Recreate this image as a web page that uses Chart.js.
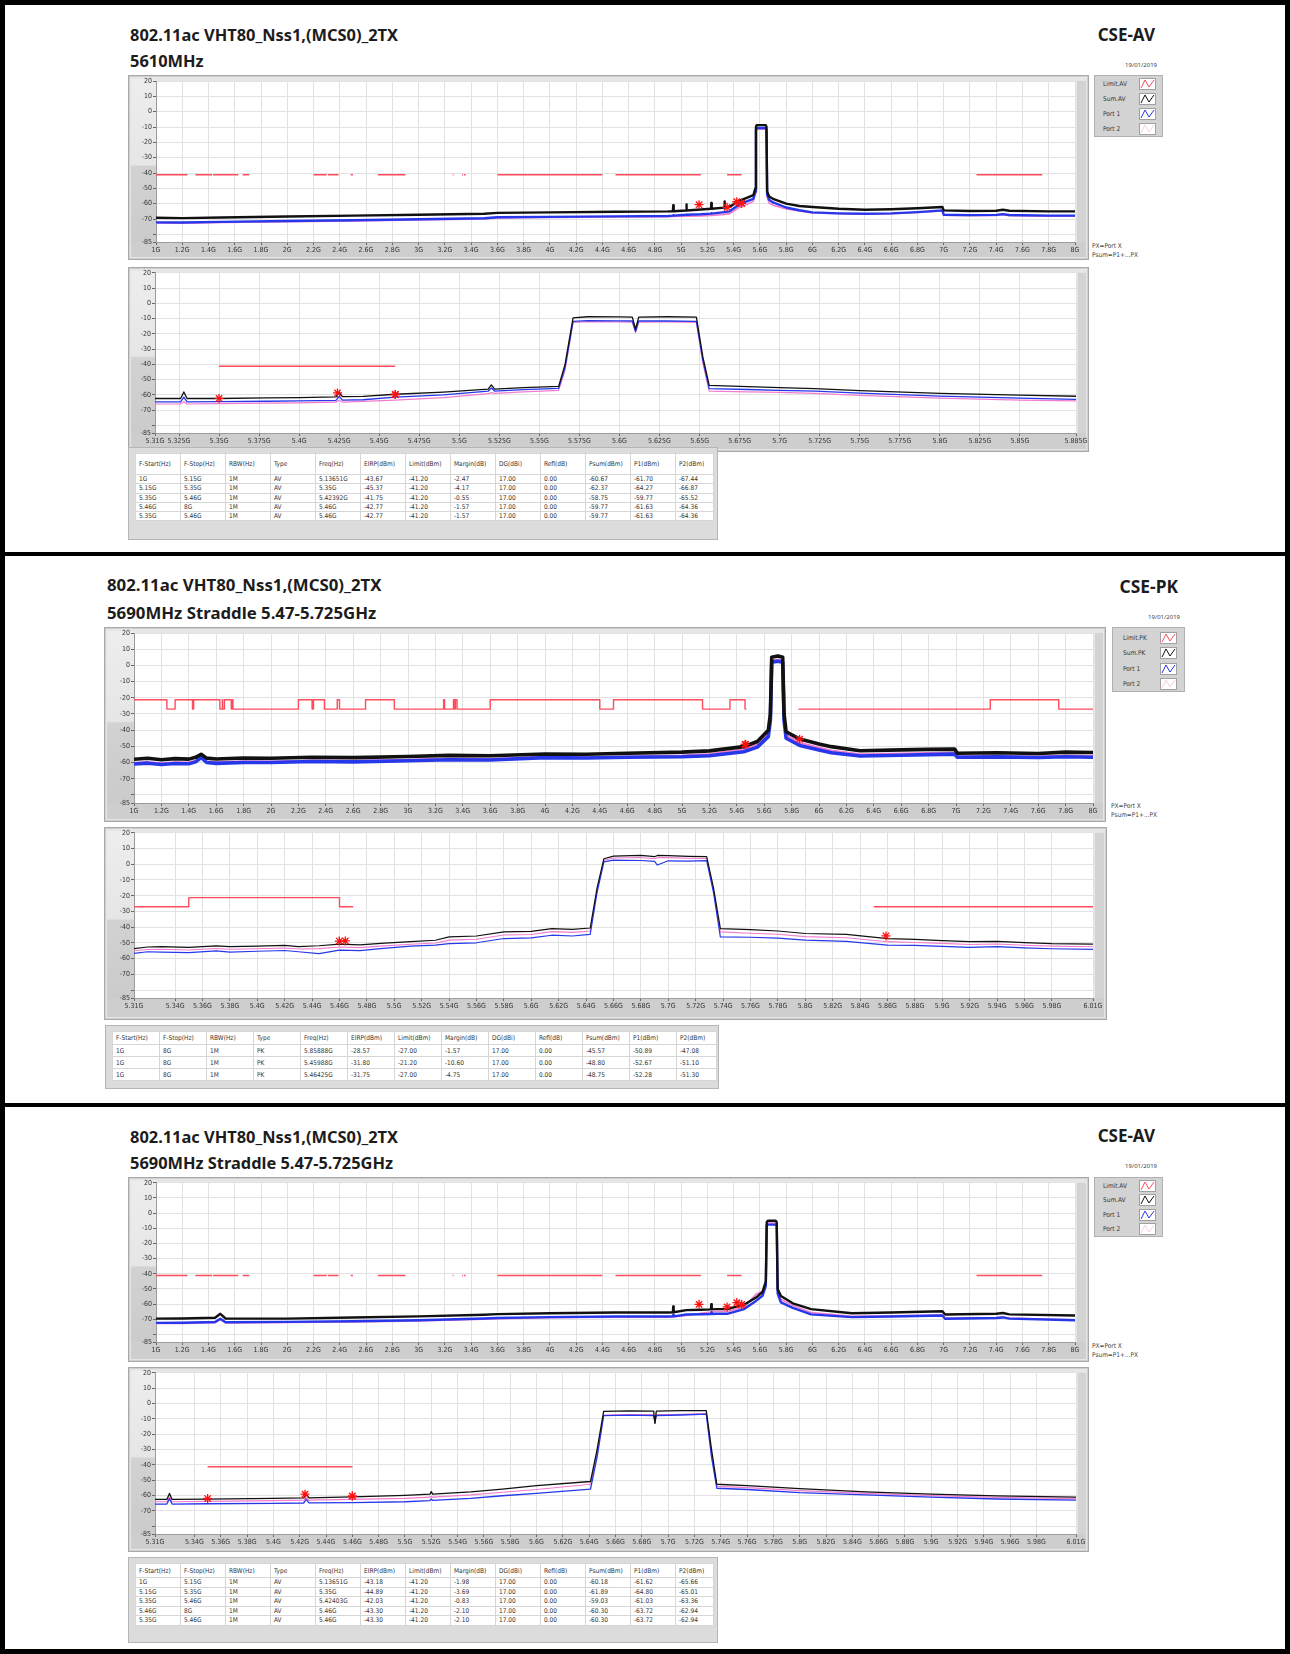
<!DOCTYPE html>
<html>
<head>
<meta charset="utf-8">
<title>CSE 802.11ac VHT80</title>
<script src="https://cdn.jsdelivr.net/npm/chart.js@4.4.0/dist/chart.umd.min.js"></script>
<style>
body { margin: 0; background: #fff; }
#page { position: relative; width: 1290px; height: 1654px; overflow: hidden; font-family: "Noto Sans", "DejaVu Sans", sans-serif; }
.border { position: absolute; left: 0; top: 0; width: 1290px; height: 1654px; box-sizing: border-box; border: 5px solid #000; }
.sep { position: absolute; left: 0; width: 1290px; height: 4px; background: #000; }
.ttl { position: absolute; font-weight: bold; font-size: 16.4px; line-height: 20px; color: #1c1c1c; white-space: nowrap; }
.date { position: absolute; font-size: 6px; line-height: 8px; color: #444; white-space: nowrap; }
.px { position: absolute; font-size: 6.5px; line-height: 9px; color: #444; white-space: nowrap;
      font-family: "Liberation Sans Narrow", "DejaVu Sans Condensed", sans-serif; }
canvas.graph { position: absolute; }
.legend { position: absolute; background: #d3d3d3; border: 1px solid #b0b0b0; box-sizing: border-box; }
.legend div { position: absolute; font-size: 6.5px; line-height: 12px; color: #333; white-space: nowrap;
      font-family: "Liberation Sans Narrow", "DejaVu Sans Condensed", sans-serif; }
.legend svg { position: absolute; }
.tframe { position: absolute; background: #dcdcdc; border: 1px solid #b5b5b5; box-sizing: border-box; }
.tframe table { position: absolute; left: 6px; top: 5px; border-collapse: collapse; background: #fff; table-layout: fixed;
      font-family: "Liberation Sans Narrow", "DejaVu Sans Condensed", sans-serif; font-size: 6.5px; color: #333; }
.tframe td { border: 1px solid #d6d6d6; padding: 0 0 0 3px; white-space: nowrap; overflow: hidden; line-height: 8px; }
</style>
</head>
<body>
<div id="page">
  <div class="border"></div>
  <div class="sep" style="top:552px"></div>
  <div class="sep" style="top:1103px"></div>

  <div class="ttl" style="left:130px; top:25px">802.11ac VHT80_Nss1,(MCS0)_2TX</div>
  <div class="ttl" style="left:130px; top:51px">5610MHz</div>
  <div class="ttl" style="right:135px; top:25px; font-size:17px">CSE-AV</div>
  <div class="date" style="right:133px; top:61px">19/01/2019</div>
  <div class="legend" id="leg1"></div>
  <div class="px" style="left:1092px; top:242px">PX=Port X<br>Psum=P1+...PX</div>
  <canvas class="graph" id="g1a"></canvas>
  <canvas class="graph" id="g1b"></canvas>
  <div class="tframe" id="tab1"></div>

  <div class="ttl" style="left:107px; top:575px; font-size:16.8px">802.11ac VHT80_Nss1,(MCS0)_2TX</div>
  <div class="ttl" style="left:107px; top:603px; font-size:16.8px">5690MHz Straddle 5.47-5.725GHz</div>
  <div class="ttl" style="right:112px; top:576px; font-size:17.4px">CSE-PK</div>
  <div class="date" style="right:110px; top:613px">19/01/2019</div>
  <div class="legend" id="leg2"></div>
  <div class="px" style="left:1111px; top:802px">PX=Port X<br>Psum=P1+...PX</div>
  <canvas class="graph" id="g2a"></canvas>
  <canvas class="graph" id="g2b"></canvas>
  <div class="tframe" id="tab2"></div>

  <div class="ttl" style="left:130px; top:1127px">802.11ac VHT80_Nss1,(MCS0)_2TX</div>
  <div class="ttl" style="left:130px; top:1153px">5690MHz Straddle 5.47-5.725GHz</div>
  <div class="ttl" style="right:135px; top:1126px; font-size:17px">CSE-AV</div>
  <div class="date" style="right:133px; top:1162px">19/01/2019</div>
  <div class="legend" id="leg3"></div>
  <div class="px" style="left:1092px; top:1342px">PX=Port X<br>Psum=P1+...PX</div>
  <canvas class="graph" id="g3a"></canvas>
  <canvas class="graph" id="g3b"></canvas>
  <div class="tframe" id="tab3"></div>
</div>

<script>
// ---- axes
var yTicks = [20, 10, 0, -10, -20, -30, -40, -50, -60, -70, -80, -85];
var wideTicks = [1, 1.2, 1.4, 1.6, 1.8, 2, 2.2, 2.4, 2.6, 2.8, 3, 3.2, 3.4, 3.6, 3.8, 4, 4.2, 4.4, 4.6, 4.8,
                 5, 5.2, 5.4, 5.6, 5.8, 6, 6.2, 6.4, 6.6, 6.8, 7, 7.2, 7.4, 7.6, 7.8, 8];
var zoomTicksA = [5.31, 5.325, 5.35, 5.375, 5.4, 5.425, 5.45, 5.475, 5.5, 5.525, 5.55, 5.575, 5.6, 5.625,
                  5.65, 5.675, 5.7, 5.725, 5.75, 5.775, 5.8, 5.825, 5.85, 5.885];
var zoomTicksB = [5.31, 5.34, 5.36, 5.38, 5.4, 5.42, 5.44, 5.46, 5.48, 5.5, 5.52, 5.54, 5.56, 5.58, 5.6, 5.62,
                  5.64, 5.66, 5.68, 5.7, 5.72, 5.74, 5.76, 5.78, 5.8, 5.82, 5.84, 5.86, 5.88, 5.9, 5.92, 5.94,
                  5.96, 5.98, 6.01];

// ---- limits (restricted bands, GHz)
var bandStart = [0.96, 1.3, 1.435, 1.645, 1.66, 1.7188, 2.2, 2.31, 2.4835, 2.69, 3.26, 3.332, 3.3458, 3.6, 4.5, 5.35, 7.25];
var bandStop  = [1.24, 1.427, 1.6265, 1.6465, 1.71, 1.7222, 2.3, 2.39, 2.5, 2.9, 3.267, 3.339, 3.358, 4.4, 5.15, 5.46, 7.75];
var avLimit = -41.2;
var pkLimitFreq  = [1, 1.24, 1.3, 1.427, 1.435, 1.6265, 1.645, 1.6465, 1.66, 1.71, 1.7188, 1.7222, 2.2, 2.3, 2.31, 2.39,
                    2.4835, 2.5, 2.69, 2.9, 3.26, 3.267, 3.332, 3.339, 3.3458, 3.358, 3.6, 4.4, 4.5, 5.15, 5.35, 5.46,
                    5.47, 5.6, 5.85, 7.25, 7.75, 8];
var pkLimitLevel = [-21.2, -27, -21.2, -27, -21.2, -27, -21.2, -27, -21.2, -27, -21.2, -27, -21.2, -27, -21.2, -27,
                    -21.2, -27, -21.2, -27, -21.2, -27, -21.2, -27, -21.2, -27, -21.2, -27, -21.2, -27, -21.2, -27,
                    -27, null, -27, -21.2, -27, -27];

// ---- panel 1: 5610MHz AV, 1-8 GHz
var p1wFreq  = [1, 1.2, 1.5, 2, 2.5, 3, 3.5, 3.6, 4, 4.5, 4.9, 4.937, 4.94, 4.943, 5.037, 5.04, 5.043, 5.15, 5.227, 5.23,
                5.233, 5.327, 5.33, 5.333, 5.37, 5.45, 5.5, 5.55, 5.565, 5.57, 5.575, 5.645, 5.65, 5.655, 5.67, 5.7, 5.8,
                5.9, 6.0, 6.2, 6.4, 6.6, 6.8, 6.99, 7.0, 7.2, 7.4, 7.45, 7.5, 7.8, 8];
var p1wSum   = [-69.2, -69.4, -69.0, -68.4, -67.8, -67.2, -66.6, -66.0, -65.7, -65.3, -65.0, -64.9, -61.0, -64.9, -64.5,
                -60.5, -64.5, -63.8, -63.3, -59.5, -63.3, -62.6, -58.5, -62.6, -62.0, -57.8, -56.2, -54.5, -50.0, -10.0,
                -8.8, -8.8, -10.0, -52.0, -55.3, -56.8, -60.0, -61.5, -62.2, -63.3, -64.0, -63.6, -63.0, -62.2, -64.4,
                -64.8, -64.6, -64.0, -64.6, -65.0, -65.0];
var p1wPort1 = [-72.2, -72.3, -71.9, -71.3, -70.8, -70.2, -69.5, -68.9, -68.6, -68.3, -68.0, -67.8, -67.5, -67.8, -67.2,
                -67.0, -67.2, -66.9, -66.5, -66.3, -66.5, -65.5, -65.2, -65.5, -65.0, -60.0, -58.5, -56.8, -52.0, -12.0,
                -10.7, -10.7, -12.0, -54.0, -57.5, -59.2, -62.5, -64.3, -65.7, -66.3, -66.6, -66.3, -65.5, -64.4, -67.2,
                -67.5, -67.3, -66.8, -67.4, -67.8, -67.8];
var p1wPort2 = [-72.6, -72.7, -72.3, -71.7, -71.2, -70.6, -69.9, -69.3, -69.0, -68.7, -68.5, -68.4, -68.3, -68.4, -68.1,
                -68.0, -68.1, -68.0, -67.7, -67.6, -67.7, -67.0, -66.8, -67.0, -66.5, -62.0, -60.5, -58.5, -53.5, -13.0,
                -11.5, -11.5, -13.0, -55.5, -59.5, -61.0, -63.5, -64.8, -66.0, -66.6, -66.9, -66.6, -65.8, -64.8, -67.6,
                -67.9, -67.7, -67.2, -67.8, -68.2, -68.2];

// ---- panel 1: 5.31-5.885 GHz
var p1zFreq  = [5.31, 5.326, 5.328, 5.330, 5.35, 5.38, 5.4, 5.423, 5.425, 5.427, 5.44, 5.46, 5.49, 5.518, 5.52, 5.522,
                5.54, 5.562, 5.566, 5.571, 5.58, 5.6, 5.608, 5.61, 5.612, 5.63, 5.648, 5.652, 5.656, 5.68, 5.7, 5.722,
                5.75, 5.8, 5.85, 5.885];
var p1zSum   = [-62.4, -62.4, -58.1, -62.4, -62.4, -62.0, -61.8, -61.3, -58.3, -61.2, -61.0, -59.6, -58.2, -56.3, -53.5,
                -56.2, -55.3, -54.4, -40.0, -9.6, -8.8, -8.9, -9.0, -17.0, -9.0, -8.8, -9.0, -35.0, -53.8, -54.6, -55.2,
                -55.9, -57.2, -59.0, -60.2, -60.9];
var p1zPort1 = [-64.6, -64.6, -61.5, -64.6, -64.5, -64.2, -64.0, -63.6, -61.0, -63.5, -63.2, -61.5, -60.0, -57.6, -55.5,
                -57.5, -56.6, -55.7, -42.0, -11.8, -11.4, -11.5, -11.6, -18.5, -11.6, -11.6, -11.8, -37.0, -55.9, -56.5,
                -57.0, -57.5, -58.8, -60.8, -62.2, -63.0];
var p1zPort2 = [-66.0, -66.0, -64.5, -66.0, -65.8, -65.4, -65.2, -64.8, -63.5, -64.7, -64.3, -63.4, -61.8, -59.2, -58.5,
                -59.0, -58.0, -57.0, -44.0, -12.5, -12.0, -12.2, -12.3, -19.0, -12.3, -12.2, -12.5, -39.0, -57.5, -58.0,
                -58.4, -59.0, -60.3, -62.2, -63.4, -64.0];

// ---- panel 2: 5690MHz PK, 1-8 GHz
var p2wFreq  = [1, 1.1, 1.2, 1.3, 1.4, 1.45, 1.49, 1.53, 1.6, 1.8, 2, 2.3, 2.6, 3, 3.3, 3.6, 4, 4.3, 4.6, 5, 5.2, 5.45,
                5.55, 5.63, 5.645, 5.655, 5.7, 5.735, 5.745, 5.76, 5.86, 6.0, 6.09, 6.3, 6.6, 6.8, 6.99, 7.01, 7.3, 7.6, 7.8, 8];
var p2wSum   = [-58.0, -57.4, -58.3, -57.6, -57.9, -56.8, -54.9, -57.3, -57.8, -57.2, -57.4, -56.7, -57.0, -56.3, -55.6,
                -55.8, -54.7, -54.9, -54.3, -53.6, -52.8, -50.2, -47.0, -40.0, -30.0, 5.0, 5.8, 5.0, -30.0, -41.0, -45.5,
                -48.5, -50.2, -52.7, -52.2, -51.9, -51.7, -54.3, -54.0, -54.4, -53.6, -53.8];
var p2wPort1 = [-60.9, -60.4, -61.2, -60.6, -60.8, -59.6, -56.9, -60.0, -60.5, -60.0, -60.0, -59.4, -59.6, -58.9, -58.3,
                -58.4, -57.0, -57.2, -56.7, -56.4, -55.8, -53.3, -50.5, -44.0, -34.0, 2.0, 2.6, 2.0, -34.0, -45.0, -49.5,
                -52.2, -54.0, -56.0, -55.5, -55.1, -54.8, -56.7, -56.5, -56.9, -56.4, -56.7];
var p2wPort2 = [-60.2, -59.8, -60.5, -59.9, -60.1, -59.0, -56.5, -59.4, -59.8, -59.3, -59.4, -58.8, -59.0, -58.3, -57.6,
                -57.8, -56.6, -56.8, -56.3, -55.7, -54.8, -51.8, -48.6, -42.0, -32.0, 3.0, 3.6, 3.0, -32.0, -43.0, -47.8,
                -50.8, -52.6, -55.0, -54.5, -54.2, -53.9, -56.2, -56.0, -56.4, -55.8, -56.1];

// ---- panel 2: 5.31-6.01 GHz
var p2zFreq  = [5.31, 5.32, 5.33, 5.35, 5.37, 5.38, 5.4, 5.42, 5.43, 5.445, 5.46, 5.475, 5.49, 5.512, 5.53, 5.54, 5.56,
                5.58, 5.6, 5.615, 5.63, 5.643, 5.648, 5.653, 5.66, 5.68, 5.69, 5.692, 5.7, 5.715, 5.728, 5.733, 5.738,
                5.76, 5.78, 5.8, 5.83, 5.86, 5.88, 5.9, 5.92, 5.94, 5.96, 5.98, 6.01];
var p2zSum   = [-53.6, -52.6, -52.3, -52.8, -51.9, -52.4, -52.0, -51.6, -52.3, -51.8, -50.8, -51.2, -50.3, -49.2, -48.3,
                -46.2, -45.6, -43.0, -42.6, -40.9, -41.4, -40.5, -15.0, 3.5, 5.2, 5.6, 4.8, 5.6, 5.5, 5.0, 4.8, -15.0,
                -40.9, -41.6, -42.4, -44.0, -44.6, -47.2, -47.8, -48.5, -49.2, -49.0, -49.8, -50.4, -50.7];
var p2zPort1 = [-56.7, -55.6, -55.9, -56.2, -55.0, -55.8, -55.3, -54.8, -55.6, -56.8, -54.6, -54.9, -53.6, -52.0, -51.4,
                -50.4, -49.9, -47.2, -46.8, -45.1, -45.6, -44.6, -18.0, 1.5, 2.6, 2.4, 1.8, -0.5, 2.2, 2.0, 2.3, -18.0,
                -46.2, -46.4, -47.0, -48.2, -49.0, -51.4, -51.6, -52.2, -52.8, -52.4, -53.2, -53.7, -54.1];
var p2zPort2 = [-55.0, -54.2, -54.0, -54.5, -53.5, -54.0, -53.7, -53.2, -53.9, -53.6, -52.6, -53.0, -52.0, -50.8, -50.0,
                -48.2, -47.7, -45.0, -44.6, -42.8, -43.3, -42.4, -16.5, 2.5, 4.0, 4.3, 3.5, 4.2, 4.2, 3.8, 3.7, -16.5,
                -43.0, -43.8, -44.5, -46.0, -46.7, -49.2, -49.7, -50.3, -51.0, -50.7, -51.5, -52.0, -52.4];

// ---- panel 3: 5690MHz AV, 1-8 GHz
var p3wFreq  = [1, 1.2, 1.45, 1.49, 1.53, 2, 2.5, 3, 3.5, 3.6, 4, 4.5, 4.9, 4.937, 4.94, 4.943, 5.04, 5.15, 5.227, 5.23,
                5.233, 5.27, 5.35, 5.48, 5.57, 5.62, 5.645, 5.652, 5.66, 5.72, 5.728, 5.735, 5.76, 5.85, 5.99, 6.3, 6.6,
                6.99, 7.01, 7.4, 7.45, 7.5, 8];
var p3wSum   = [-69.6, -69.5, -69.0, -66.4, -69.5, -69.6, -68.8, -68.1, -67.0, -66.6, -66.0, -65.5, -65.5, -65.4, -61.5,
                -65.4, -64.0, -63.7, -63.5, -60.0, -63.5, -63.3, -63.3, -60.4, -55.7, -52.0, -45.0, -6.0, -5.0, -5.0,
                -6.0, -50.0, -54.6, -59.5, -63.3, -66.0, -65.5, -64.7, -66.9, -66.4, -65.9, -66.8, -67.5];
var p3wPort1 = [-72.4, -72.3, -71.8, -69.6, -72.0, -71.7, -71.3, -70.7, -69.5, -69.2, -68.6, -68.2, -68.2, -68.1, -67.0,
                -68.1, -66.9, -66.7, -66.5, -65.5, -66.5, -66.4, -66.4, -63.3, -57.9, -54.5, -48.0, -8.0, -7.6, -7.6,
                -8.0, -53.0, -58.9, -62.5, -66.8, -68.6, -68.2, -67.5, -69.7, -69.2, -68.8, -69.6, -70.7];
var p3wPort2 = [-72.8, -72.7, -72.2, -70.2, -72.4, -72.1, -71.7, -71.1, -69.9, -69.6, -69.0, -68.6, -68.6, -68.5, -67.8,
                -68.5, -67.5, -66.0, -65.2, -65.0, -65.2, -64.9, -64.9, -62.0, -53.5, -51.5, -46.0, -7.0, -6.5, -6.5,
                -7.0, -51.5, -56.8, -61.0, -65.5, -68.0, -67.8, -67.2, -69.3, -68.9, -68.5, -69.2, -70.3];

// ---- panel 3: 5.31-6.01 GHz
var p3zFreq  = [5.31, 5.319, 5.321, 5.323, 5.35, 5.4, 5.423, 5.425, 5.427, 5.46, 5.5, 5.519, 5.52, 5.521, 5.55, 5.574,
                5.6, 5.641, 5.646, 5.651, 5.67, 5.689, 5.69, 5.691, 5.71, 5.729, 5.733, 5.737, 5.76, 5.8, 5.85, 5.9, 5.95, 6.01];
var p3zSum   = [-62.5, -62.5, -58.6, -62.5, -62.3, -61.8, -61.5, -59.0, -61.5, -60.8, -59.8, -59.0, -57.4, -59.0, -57.5,
                -55.8, -53.5, -50.8, -30.0, -5.1, -4.8, -5.0, -12.9, -5.0, -4.7, -4.7, -30.0, -52.6, -53.5, -55.5, -57.5,
                -59.0, -60.2, -61.0];
var p3zPort1 = [-65.5, -65.5, -62.0, -65.5, -65.3, -65.0, -64.8, -62.5, -64.7, -64.5, -64.0, -63.2, -62.2, -63.1, -61.8,
                -60.1, -58.5, -55.8, -35.0, -7.9, -7.6, -7.8, -12.0, -7.8, -7.5, -6.9, -35.0, -55.2, -56.0, -58.0, -59.5,
                -61.0, -62.2, -63.0];
var p3zPort2 = [-64.0, -64.0, -61.0, -64.0, -63.8, -63.3, -63.0, -61.5, -63.0, -62.5, -61.8, -61.0, -60.5, -61.0, -59.5,
                -57.8, -56.0, -52.6, -33.0, -7.5, -7.2, -7.4, -12.5, -7.4, -7.1, -6.6, -33.0, -54.0, -54.8, -56.8, -58.6,
                -60.0, -61.2, -62.0];

// ---- result tables
var tableHead = ['F-Start(Hz)', 'F-Stop(Hz)', 'RBW(Hz)', 'Type', 'Freq(Hz)', 'EIRP(dBm)', 'Limit(dBm)', 'Margin(dB)',
                 'DG(dBi)', 'Refl(dB)', 'Psum(dBm)', 'P1(dBm)', 'P2(dBm)'];
var table1 = [
  ['1G', '5.15G', '1M', 'AV', '5.13651G', '-43.67', '-41.20', '-2.47', '17.00', '0.00', '-60.67', '-61.70', '-67.44'],
  ['5.15G', '5.35G', '1M', 'AV', '5.35G', '-45.37', '-41.20', '-4.17', '17.00', '0.00', '-62.37', '-64.27', '-66.87'],
  ['5.35G', '5.46G', '1M', 'AV', '5.42392G', '-41.75', '-41.20', '-0.55', '17.00', '0.00', '-58.75', '-59.77', '-65.52'],
  ['5.46G', '8G', '1M', 'AV', '5.46G', '-42.77', '-41.20', '-1.57', '17.00', '0.00', '-59.77', '-61.63', '-64.36'],
  ['5.35G', '5.46G', '1M', 'AV', '5.46G', '-42.77', '-41.20', '-1.57', '17.00', '0.00', '-59.77', '-61.63', '-64.36']
];
var table2 = [
  ['1G', '8G', '1M', 'PK', '5.85888G', '-28.57', '-27.00', '-1.57', '17.00', '0.00', '-45.57', '-50.89', '-47.08'],
  ['1G', '8G', '1M', 'PK', '5.45988G', '-31.80', '-21.20', '-10.60', '17.00', '0.00', '-48.80', '-52.67', '-51.10'],
  ['1G', '8G', '1M', 'PK', '5.46425G', '-31.75', '-27.00', '-4.75', '17.00', '0.00', '-48.75', '-52.28', '-51.30']
];
var table3 = [
  ['1G', '5.15G', '1M', 'AV', '5.13651G', '-43.18', '-41.20', '-1.98', '17.00', '0.00', '-60.18', '-61.62', '-65.66'],
  ['5.15G', '5.35G', '1M', 'AV', '5.35G', '-44.89', '-41.20', '-3.69', '17.00', '0.00', '-61.89', '-64.80', '-65.01'],
  ['5.35G', '5.46G', '1M', 'AV', '5.42403G', '-42.03', '-41.20', '-0.83', '17.00', '0.00', '-59.03', '-61.03', '-63.36'],
  ['5.46G', '8G', '1M', 'AV', '5.46G', '-43.30', '-41.20', '-2.10', '17.00', '0.00', '-60.30', '-63.72', '-62.94'],
  ['5.35G', '5.46G', '1M', 'AV', '5.46G', '-43.30', '-41.20', '-2.10', '17.00', '0.00', '-60.30', '-63.72', '-62.94']
];

var legendAV = ['Limit.AV', 'Sum.AV', 'Port 1', 'Port 2'];
var legendPK = ['Limit.PK', 'Sum.PK', 'Port 1', 'Port 2'];

var cLimit = '#ff4b5c', cSum = '#111111', cP1 = '#2638ea', cP2 = '#f27ccd';
var tickFont = { family: "'Liberation Sans Narrow', 'DejaVu Sans Condensed', sans-serif", size: 7 };

// gray LabVIEW-like frame round each graph
var framePlugin = {
  id: 'frame',
  beforeDraw: function (chart) {
    var ctx = chart.ctx, w = chart.width, h = chart.height, a = chart.chartArea;
    ctx.save();
    ctx.fillStyle = '#cfcfcf';
    ctx.fillRect(0, 0, w, h);
    ctx.fillStyle = '#e6e6e6';
    ctx.fillRect(2, 2, w - 4, h - 4);
    var g = ctx.createLinearGradient(0, a.top, 0, a.bottom);
    g.addColorStop(0, '#ededed');
    g.addColorStop(0.52, '#e6e6e6');
    g.addColorStop(0.53, '#d2d2d2');
    g.addColorStop(1, '#cbcbcb');
    ctx.fillStyle = g;
    ctx.fillRect(3, a.top - 2, a.left - 3, a.bottom - a.top + 2);
    ctx.fillStyle = '#cecece';
    ctx.fillRect(3, a.bottom, w - 6, h - a.bottom - 3);
    ctx.fillStyle = '#d3d3d3';
    ctx.fillRect(a.right + 2, a.top, w - a.right - 5, a.bottom - a.top);
    ctx.fillStyle = '#ffffff';
    ctx.fillRect(a.left, a.top, a.right - a.left, a.bottom - a.top);
    ctx.strokeStyle = '#a9a9a9';
    ctx.strokeRect(0.5, 0.5, w - 1, h - 1);
    ctx.restore();
  }
};

function pts(xs, ys) {
  return xs.map(function (x, i) { return { x: x, y: ys[i] }; });
}

function traces(freq, sum, p1, p2, w) {
  return [
    { label: 'Sum', data: pts(freq, sum), borderColor: cSum, borderWidth: w[0], order: 2 },
    { label: 'Port 1', data: pts(freq, p1), borderColor: cP1, borderWidth: w[1], order: 3 },
    { label: 'Port 2', data: pts(freq, p2), borderColor: cP2, borderWidth: w[2], order: 4 }
  ];
}

function avLimitSet() {
  var d = [];
  bandStart.forEach(function (a, i) {
    d.push({ x: a, y: avLimit }, { x: bandStop[i], y: avLimit }, { x: bandStop[i], y: null });
  });
  return { label: 'Limit.AV', data: d, borderColor: cLimit, borderWidth: 1.5, order: 1 };
}

function pkLimitSet() {
  return { label: 'Limit.PK', data: pts(pkLimitFreq, pkLimitLevel), borderColor: cLimit, borderWidth: 1.4,
           stepped: true, order: 1 };
}

function markerSet(rows) {
  return { label: 'Markers', showLine: false, order: 0, pointStyle: 'star', pointRadius: 4.5,
           borderColor: '#ff1010', backgroundColor: '#ff1010', pointBorderWidth: 1.3,
           data: rows.map(function (r) { return { x: parseFloat(r[4]), y: parseFloat(r[10]) }; }) };
}

function graph(id, box, ins, xMin, xMax, xTicks, sets) {
  var cv = document.getElementById(id);
  cv.width = box[2]; cv.height = box[3];
  cv.style.left = box[0] + 'px'; cv.style.top = box[1] + 'px';
  cv.style.width = box[2] + 'px'; cv.style.height = box[3] + 'px';
  new Chart(cv, {
    type: 'line',
    data: { datasets: sets },
    options: {
      responsive: false, animation: false, devicePixelRatio: 1,
      layout: { padding: { left: 0, right: ins[1], top: ins[2], bottom: 0 } },
      plugins: { legend: { display: false }, tooltip: { enabled: false } },
      elements: { point: { radius: 0 }, line: { tension: 0, borderJoinStyle: 'round' } },
      scales: {
        x: {
          type: 'linear', min: xMin, max: xMax,
          afterBuildTicks: function (s) { s.ticks = xTicks.map(function (v) { return { value: v }; }); },
          afterFit: function (s) { s.height = ins[3]; },
          ticks: { autoSkip: false, maxRotation: 0, padding: 1, color: '#333', font: tickFont,
                   callback: function (v) { return (+v.toFixed(3)) + 'G'; } },
          grid: { color: '#e2e2e2', tickLength: 3, tickColor: '#666' },
          border: { color: '#9c9c9c' }
        },
        y: {
          type: 'linear', min: -85, max: 20,
          afterBuildTicks: function (s) { s.ticks = yTicks.map(function (v) { return { value: v }; }); },
          afterFit: function (s) { s.width = ins[0]; },
          ticks: { padding: 1, color: '#333', font: tickFont,
                   callback: function (v) { return v === -80 ? '' : v; } },
          grid: { color: '#e2e2e2', tickLength: 3, tickColor: '#666' },
          border: { color: '#9c9c9c' }
        }
      }
    },
    plugins: [framePlugin]
  });
}

function legend(id, box, labels, textX, swX, rowY, rowH) {
  var el = document.getElementById(id);
  el.style.left = box[0] + 'px'; el.style.top = box[1] + 'px';
  el.style.width = box[2] + 'px'; el.style.height = box[3] + 'px';
  var cols = [cLimit, cSum, cP1, '#f6cde8'];
  labels.forEach(function (t, i) {
    var y = rowY + i * rowH;
    var d = document.createElement('div');
    d.textContent = t;
    d.style.left = textX + 'px'; d.style.top = (y - 6) + 'px';
    el.appendChild(d);
    var s = document.createElementNS('http://www.w3.org/2000/svg', 'svg');
    s.setAttribute('width', 17); s.setAttribute('height', 12);
    s.style.left = swX + 'px'; s.style.top = (y - 6) + 'px';
    s.innerHTML = '<rect x="0.5" y="0.5" width="16" height="11" fill="#fff" stroke="#a0a0a0"/>' +
                  '<polyline points="2,10 6,2 10,9 15,2" fill="none" stroke="' + cols[i] + '" stroke-width="1"/>';
    el.appendChild(s);
  });
}

function table(id, box, rows, colW, lastW, headH, rowH) {
  var el = document.getElementById(id);
  el.style.left = box[0] + 'px'; el.style.top = box[1] + 'px';
  el.style.width = box[2] + 'px'; el.style.height = box[3] + 'px';
  var t = document.createElement('table');
  var html = '<colgroup>';
  tableHead.forEach(function (h, i) { html += '<col style="width:' + (i === 12 ? lastW : colW) + 'px">'; });
  html += '</colgroup><tr style="height:' + headH + 'px">';
  tableHead.forEach(function (h) { html += '<td>' + h + '</td>'; });
  html += '</tr>';
  rows.forEach(function (r) {
    html += '<tr style="height:' + rowH + 'px">';
    r.forEach(function (c) { html += '<td>' + c + '</td>'; });
    html += '</tr>';
  });
  t.innerHTML = html;
  el.appendChild(t);
}

// ---- panel 1
graph('g1a', [128, 75, 961, 185], [28, 14, 6, 18], 1, 8, wideTicks,
      [markerSet(table1), avLimitSet()].concat(traces(p1wFreq, p1wSum, p1wPort1, p1wPort2, [2.4, 2.4, 1.6])));
graph('g1b', [128, 267, 961, 185], [27, 13, 4, 19], 5.31, 5.885, zoomTicksA,
      [markerSet(table1), avLimitSet()].concat(traces(p1zFreq, p1zSum, p1zPort1, p1zPort2, [1.3, 1.3, 1.2])));
legend('leg1', [1094, 75, 69, 62], legendAV, 8, 44, 8, 15);
table('tab1', [128, 447, 590, 93], table1, 45, 38, 21, 9.3);

// ---- panel 2
graph('g2a', [104, 627, 1002, 195], [30, 13, 6, 19], 1, 8, wideTicks,
      [markerSet(table2), pkLimitSet()].concat(traces(p2wFreq, p2wSum, p2wPort1, p2wPort2, [3.6, 3.6, 2.2])));
graph('g2b', [104, 827, 1003, 193], [30, 14, 5, 22], 5.31, 6.01, zoomTicksB,
      [markerSet(table2), pkLimitSet()].concat(traces(p2zFreq, p2zSum, p2zPort1, p2zPort2, [1.2, 1.2, 1.1])));
legend('leg2', [1112, 627, 73, 65], legendPK, 10, 47, 10, 15.3);
table('tab2', [105, 1025, 614, 64], table2, 47, 40, 13, 12);

// ---- panel 3
graph('g3a', [128, 1177, 961, 185], [28, 14, 4, 20], 1, 8, wideTicks,
      [markerSet(table3), avLimitSet()].concat(traces(p3wFreq, p3wSum, p3wPort1, p3wPort2, [2.4, 2.4, 1.6])));
graph('g3b', [128, 1367, 961, 185], [27, 13, 5, 18], 5.31, 6.01, zoomTicksB,
      [markerSet(table3), avLimitSet()].concat(traces(p3zFreq, p3zSum, p3zPort1, p3zPort2, [1.3, 1.3, 1.2])));
legend('leg3', [1094, 1177, 69, 60], legendAV, 8, 44, 8, 14.3);
table('tab3', [128, 1557, 590, 86], table3, 45, 38, 14, 9.5);
</script>
</body>
</html>
